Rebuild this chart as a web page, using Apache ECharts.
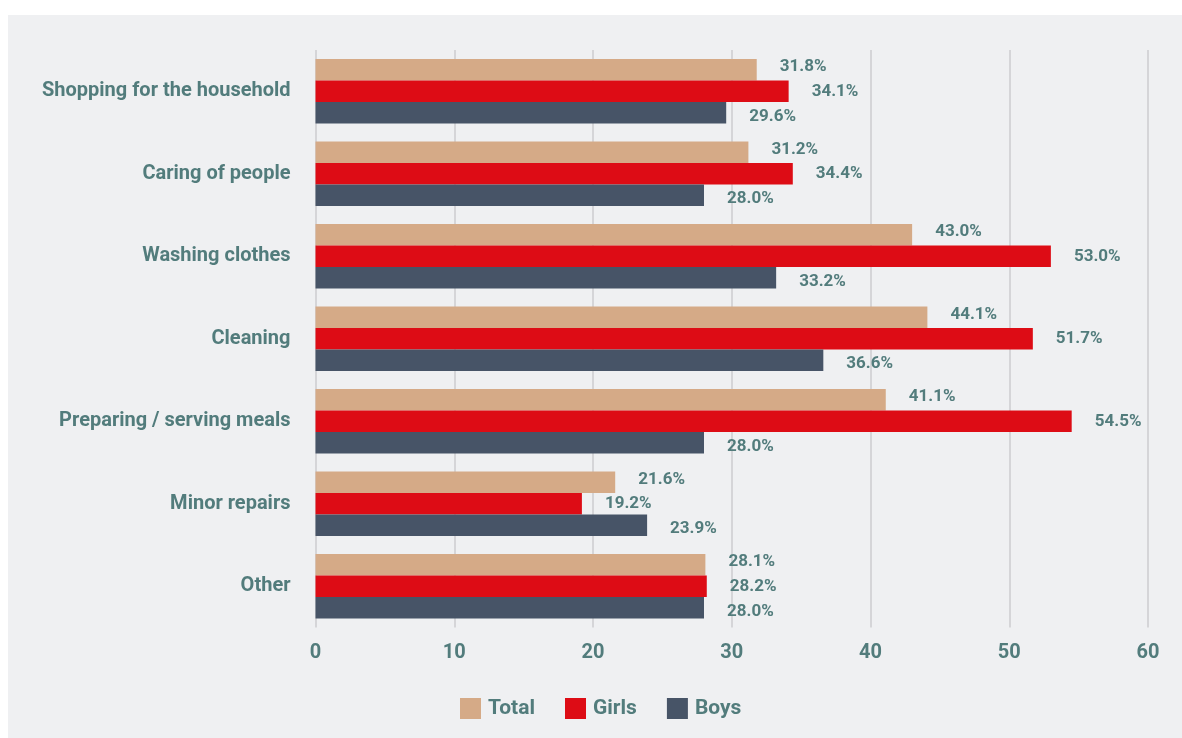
<!DOCTYPE html>
<html>
<head>
<meta charset="utf-8">
<script src="https://cdn.jsdelivr.net/npm/echarts@6/dist/echarts.min.js"></script>
<style>
  html, body { margin: 0; padding: 0; background: #ffffff; }
  #panel { position: absolute; left: 8px; top: 15px; width: 1174px; height: 723px; background: #eff0f2; }
  #chart { position: absolute; left: 0; top: 0; width: 1182px; height: 738px; }
</style>
</head>
<body>
<div id="panel"></div>
<div id="chart"></div>
<script>
// Share of children doing each household task (%)
const categories = [
  'Shopping for the household',
  'Caring of people',
  'Washing clothes',
  'Cleaning',
  'Preparing / serving meals',
  'Minor repairs',
  'Other'
];
const totalValues = [31.8, 31.2, 43.0, 44.1, 41.1, 21.6, 28.1];
const girlsValues = [34.1, 34.4, 53.0, 51.7, 54.5, 19.2, 28.2];
const boysValues  = [29.6, 28.0, 33.2, 36.6, 28.0, 23.9, 28.0];
const xTicks = [0, 10, 20, 30, 40, 50, 60];

const textColor = '#527c7c';
const fontFamily = 'Roboto, "Noto Sans", sans-serif';

function barSeries(name, data, color, dy) {
  return {
    name: name,
    type: 'bar',
    data: data,
    barGap: '0%',
    barCategoryGap: '22%',
    itemStyle: { color: color },
    label: {
      show: true,
      position: 'right',
      distance: 23,
      offset: [0, dy],
      formatter: p => p.value.toFixed(1) + '%',
      color: textColor,
      fontFamily: fontFamily,
      fontWeight: 'bold',
      fontSize: 17
    }
  };
}

const chart = echarts.init(document.getElementById('chart'));
chart.setOption({
  backgroundColor: 'transparent',
  animation: false,
  grid: { left: 315.5, right: 34, top: 50, bottom: 110.5, containLabel: false },
  legend: {
    data: ['Total', 'Girls', 'Boys'],
    left: 455,
    top: 693,
    itemWidth: 21,
    itemHeight: 21,
    itemGap: 30,
    icon: 'rect',
    textStyle: { color: textColor, fontFamily: fontFamily, fontWeight: 'bold', fontSize: 21, padding: [0, 0, 0, 2] }
  },
  xAxis: {
    type: 'value',
    min: xTicks[0],
    max: xTicks[xTicks.length - 1],
    interval: 10,
    axisLine: { show: false },
    axisTick: { show: false },
    splitLine: { show: true, lineStyle: { color: '#cdcdcf', width: 1.5 } },
    axisLabel: { color: textColor, fontFamily: fontFamily, fontWeight: 'bold', fontSize: 20, margin: 15 }
  },
  yAxis: {
    type: 'category',
    data: categories,
    inverse: true,
    axisLine: { show: false },
    axisTick: { show: false },
    axisLabel: { color: textColor, fontFamily: fontFamily, fontWeight: 'bold', fontSize: 20, margin: 25 }
  },
  series: [
    barSeries('Total', totalValues, '#d5aa87', -3),
    barSeries('Girls', girlsValues, '#dd0c15', 0),
    barSeries('Boys', boysValues, '#475467', 4)
  ]
});
</script>
</body>
</html>
